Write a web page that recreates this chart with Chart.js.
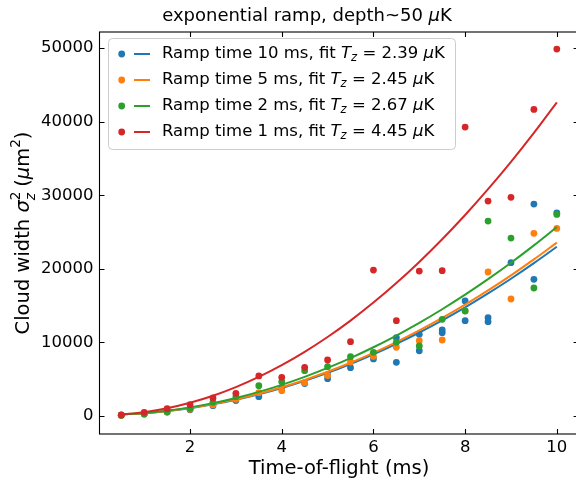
<!DOCTYPE html>
<html>
<head>
<meta charset="utf-8">
<script src="https://cdn.jsdelivr.net/npm/chart.js@4.4.0/dist/chart.umd.min.js"></script>
<style>
  html, body { margin: 0; padding: 0; overflow: hidden; background: #fff; }
  #wrap { width: 576px; height: 479px; overflow: hidden; }
</style>
</head>
<body>
<div id="wrap"><canvas id="chart" width="582" height="479" style="width:582px;height:479px"></canvas></div>
<script>
// measured points (time-of-flight in ms, width^2 in um^2)
const blueT = [0.5, 1, 1.5, 2, 2.5, 3, 3.5, 4, 4.5, 5, 5, 5.5, 6, 6.5, 6.5, 7, 7, 7.5, 7.5, 8, 8, 8.5, 8.5, 9, 9.5, 9.5, 10];
const blueY = [100, 270, 540, 850, 1400, 2100, 2620, 3850, 4400, 5620, 5070, 6560, 7750, 10640, 7300, 11100, 8870, 11690, 11320, 15630, 12950, 13360, 12820, 20840, 28810, 18580, 27600];

const otherT = [0.5, 1, 1.5, 2, 2.5, 3, 3.5, 4, 4.5, 5, 5.5, 6, 6.5, 7, 7.5, 8, 8.5, 9, 9.5, 10];
const orangeY = [100, 270, 540, 900, 1500, 2270, 3170, 3440, 4530, 5500, 7340, 8100, 9340, 10230, 10330, 14300, 19570, 15900, 24830, 25500];
const greenY = [100, 280, 560, 1000, 1860, 2620, 4120, 4660, 6160, 6700, 8060, 8650, 10010, 9510, 13140, 14270, 26500, 24190, 17400, 27400];
const redY = [140, 500, 990, 1540, 2450, 3080, 5440, 5260, 6620, 7610, 10100, 19840, 12950, 19700, 19750, 39270, 29220, 29720, 41680, 49880];

// fit curves
const fitT = [0.5, 1, 1.5, 2, 2.5, 3, 3.5, 4, 4.5, 5, 5.5, 6, 6.5, 7, 7.5, 8, 8.5, 9, 9.5, 10];
const blueFit = [207, 379, 664, 1064, 1578, 2207, 2949, 3806, 4777, 5863, 7062, 8376, 9804, 11347, 13003, 14774, 16659, 18659, 20772, 23000];
const orangeFit = [209, 384, 677, 1087, 1614, 2258, 3019, 3897, 4893, 6005, 7235, 8581, 10045, 11626, 13324, 15139, 17071, 19120, 21287, 23570];
const greenFit = [214, 405, 724, 1171, 1746, 2448, 3277, 4235, 5320, 6533, 7873, 9341, 10937, 12660, 14511, 16489, 18595, 20829, 23190, 25680];
const redFit = [206, 525, 1057, 1802, 2759, 3929, 5311, 6906, 8714, 10735, 12968, 15414, 18073, 20945, 24029, 27326, 30836, 34557, 38492, 42640];

const rampTimes = ['10', '5', '2', '1'];
const fitTemps = ['2.39', '2.45', '2.67', '4.45'];
const colors = ['#1f77b4', '#ff7f0e', '#2ca02c', '#d62728'];

const xTicks = [2, 4, 6, 8, 10];
const yTicks = [0, 10000, 20000, 30000, 40000, 50000];

const FONT = "'DejaVu Sans', sans-serif";

function pts(xs, ys) {
  return xs.map((x, i) => ({ x: x, y: ys[i] }));
}

const pointSets = [pts(blueT, blueY), pts(otherT, orangeY), pts(otherT, greenY), pts(otherT, redY)];
const fitSets = [pts(fitT, blueFit), pts(fitT, orangeFit), pts(fitT, greenFit), pts(fitT, redFit)];

const datasets = [];
let ord = 20;
for (let i = 0; i < 4; i++) {
  datasets.push({
    type: 'scatter', data: pointSets[i], backgroundColor: colors[i], borderColor: colors[i],
    pointRadius: 3.4, pointHoverRadius: 3.4, borderWidth: 0, order: ord--
  });
  datasets.push({
    type: 'line', data: fitSets[i], borderColor: colors[i], borderWidth: 2, pointRadius: 0,
    fill: false, cubicInterpolationMode: 'monotone', order: ord--
  });
}

// rich text: runs of {t, it, s (size scale), dy (em), noadv}
function runsWidth(ctx, runs, size) {
  let w = 0;
  runs.forEach(r => {
    ctx.font = (r.it ? 'italic ' : '') + (size * (r.s || 1)) + 'px ' + FONT;
    if (!r.noadv) w += ctx.measureText(r.t).width;
  });
  return w;
}
function drawRuns(ctx, runs, x, y, size) {
  runs.forEach(r => {
    ctx.font = (r.it ? 'italic ' : '') + (size * (r.s || 1)) + 'px ' + FONT;
    ctx.fillText(r.t, x, y + (r.dy || 0) * size);
    if (!r.noadv) x += ctx.measureText(r.t).width;
  });
  return x;
}

const decor = {
  id: 'decor',
  afterDraw(chart) {
    const ctx = chart.ctx;
    const a = chart.chartArea;
    const xs = chart.scales.x, ys = chart.scales.y;
    ctx.save();
    ctx.fillStyle = '#000';
    ctx.strokeStyle = '#000';

    // frame
    ctx.lineWidth = 1.1;
    ctx.strokeRect(a.left, a.top, a.right - a.left, a.bottom - a.top);

    // inward ticks on all sides
    const tl = 5;
    ctx.beginPath();
    xTicks.forEach(v => {
      const px = Math.round(xs.getPixelForValue(v)) + 0.5;
      ctx.moveTo(px, a.bottom); ctx.lineTo(px, a.bottom - tl);
      ctx.moveTo(px, a.top); ctx.lineTo(px, a.top + tl);
    });
    yTicks.forEach(v => {
      const py = Math.round(ys.getPixelForValue(v)) + 0.5;
      ctx.moveTo(a.left, py); ctx.lineTo(a.left + tl, py);
      ctx.moveTo(a.right, py); ctx.lineTo(a.right - tl, py);
    });
    ctx.stroke();

    // title
    ctx.textBaseline = 'alphabetic';
    ctx.textAlign = 'left';
    const titleRuns = [{ t: 'exponential ramp, depth~50 ' }, { t: 'μ', it: true }, { t: 'K' }];
    let w = runsWidth(ctx, titleRuns, 18);
    drawRuns(ctx, titleRuns, 307 - w / 2, 21, 18);

    // x label
    const xl = [{ t: 'Time-of-flight (ms)' }];
    w = runsWidth(ctx, xl, 19.5);
    drawRuns(ctx, xl, (a.left + a.right) / 2 - w / 2, 474, 19.5);

    // y label
    const yl = [
      { t: 'Cloud width ' }, { t: 'σ', it: true },
      { t: '2', s: 0.7, dy: -0.45, noadv: true }, { t: 'z', it: true, s: 0.7, dy: 0.3 },
      { t: ' (' }, { t: 'μ', it: true }, { t: 'm' }, { t: '2', s: 0.7, dy: -0.45 }, { t: ')' }
    ];
    ctx.save();
    ctx.translate(29, (a.top + a.bottom) / 2);
    ctx.rotate(-Math.PI / 2);
    w = runsWidth(ctx, yl, 19.5);
    drawRuns(ctx, yl, -w / 2, 0, 19.5);
    ctx.restore();

    // legend
    const lx = 108, ly = 38, lw = 347, lh = 111;
    ctx.beginPath();
    ctx.roundRect(lx + 0.5, ly + 0.5, lw, lh, 4);
    ctx.fillStyle = 'rgba(255,255,255,0.8)';
    ctx.fill();
    ctx.strokeStyle = '#cccccc';
    ctx.lineWidth = 1;
    ctx.stroke();
    ctx.textBaseline = 'middle';
    for (let i = 0; i < 4; i++) {
      const ry = 54 + 26 * i;
      ctx.fillStyle = colors[i];
      ctx.beginPath();
      ctx.arc(121.7, ry, 3.4, 0, Math.PI * 2);
      ctx.fill();
      ctx.strokeStyle = colors[i];
      ctx.lineWidth = 2;
      ctx.beginPath();
      ctx.moveTo(134, ry); ctx.lineTo(150, ry);
      ctx.stroke();
      ctx.fillStyle = '#000';
      drawRuns(ctx, [
        { t: 'Ramp time ' + rampTimes[i] + ' ms, fit ' }, { t: 'T', it: true },
        { t: 'z', it: true, s: 0.7, dy: 0.25 }, { t: ' = ' + fitTemps[i] + ' ' },
        { t: 'μ', it: true }, { t: 'K' }
      ], 162, ry, 16.5);
    }
    ctx.restore();
  }
};

new Chart(document.getElementById('chart').getContext('2d'), {
  data: { datasets: datasets },
  options: {
    responsive: false,
    animation: false,
    devicePixelRatio: 1,
    layout: { padding: { top: 32, right: 2, bottom: 0, left: 0 } },
    plugins: { legend: { display: false }, tooltip: { enabled: false } },
    scales: {
      x: {
        type: 'linear', min: 0.025, max: 10.475,
        grid: { display: false, drawTicks: false }, border: { display: false },
        ticks: { color: '#000', padding: 4, font: { family: FONT, size: 16.5 }, callback: v => String(v) },
        afterBuildTicks: s => { s.ticks = xTicks.map(v => ({ value: v })); },
        afterFit: s => { s.height = 45; }
      },
      y: {
        type: 'linear', min: -2450, max: 52200,
        grid: { display: false, drawTicks: false }, border: { display: false },
        ticks: { color: '#000', padding: 6, font: { family: FONT, size: 16.5 }, callback: v => String(v) },
        afterBuildTicks: s => { s.ticks = yTicks.map(v => ({ value: v })); },
        afterFit: s => { s.width = 99.5; }
      }
    }
  },
  plugins: [decor]
});
</script>
</body>
</html>
